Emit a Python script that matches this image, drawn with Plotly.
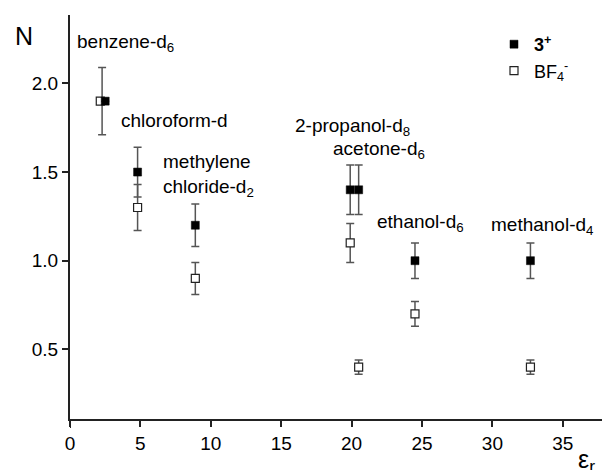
import plotly.graph_objects as go

# Data
solvents = ["benzene-d6", "chloroform-d", "methylene chloride-d2", "2-propanol-d8",
            "acetone-d6", "ethanol-d6", "methanol-d4"]
eps_cation = [2.5, 4.8, 8.9, 19.9, 20.5, 24.5, 32.7]
N_cation = [1.9, 1.5, 1.2, 1.4, 1.4, 1.0, 1.0]
err_cation = [0.0, 0.14, 0.12, 0.14, 0.14, 0.10, 0.10]

eps_anion = [2.15, 4.8, 8.9, 19.9, 20.5, 24.5, 32.7]
N_anion = [1.9, 1.3, 0.9, 1.1, 0.4, 0.7, 0.4]
err_anion = [0.0, 0.13, 0.09, 0.11, 0.04, 0.07, 0.04]

eps_benzene_err = [2.28]
N_benzene_err = [1.9]
err_benzene = [0.19]

FONT = "Liberation Sans, Arial, sans-serif"
ERRC = "#555555"
FS = 19

# page has an 8px body margin; figure is sized/offset to compensate
W, H = 602, 462
PL, PT = 70, 15            # plot area left/top in page pixels
PW, PH = 540, 404          # plot area size


def px_x(p):
    return (p - PL) / PW


def px_y(p):
    return 1 - (p - PT) / PH


fig = go.Figure()

fig.add_trace(go.Scatter(
    x=eps_benzene_err, y=N_benzene_err, mode="markers",
    marker=dict(size=1, color="rgba(0,0,0,0)"),
    error_y=dict(type="data", array=err_benzene, color=ERRC, thickness=1.5, width=4),
    showlegend=False, hoverinfo="skip"))

fig.add_trace(go.Scatter(
    x=eps_anion, y=N_anion, mode="markers", name="BF<sub>4</sub><sup>-</sup>",
    marker=dict(symbol="square", size=8, color="white", line=dict(color="#222", width=1.2)),
    error_y=dict(type="data", array=err_anion, color=ERRC, thickness=1.5, width=4)))

fig.add_trace(go.Scatter(
    x=eps_cation, y=N_cation, mode="markers", name="<b>3<sup>+</sup></b>",
    marker=dict(symbol="square", size=8, color="black", line=dict(color="black", width=0.5)),
    error_y=dict(type="data", array=err_cation, color=ERRC, thickness=1.5, width=4)))

labels = [
    ("benzene-d<sub>6</sub>", 0.36, 2.23),
    ("chloroform-d", 3.48, 1.79),
    ("methylene<br>chloride-d<sub>2</sub>", 6.46, 1.48),
    ("2-propanol-d<sub>8</sub>", 15.84, 1.755),
    ("acetone-d<sub>6</sub>", 18.54, 1.625),
    ("ethanol-d<sub>6</sub>", 21.66, 1.21),
    ("methanol-d<sub>4</sub>", 29.76, 1.195),
]
annotations = []
for t, x, y in labels:
    annotations.append(dict(text=t, x=x, y=y, xref="x", yref="y", xanchor="left",
                            yanchor="middle", showarrow=False, align="left",
                            font=dict(size=FS, family=FONT, color="black")))

annotations.append(dict(text="N", x=px_x(24), y=px_y(36), xref="paper", yref="paper",
                        showarrow=False, xanchor="center", yanchor="middle",
                        font=dict(size=25, family=FONT, color="black")))
annotations.append(dict(text="ε<sub>r</sub>", x=px_x(576), y=px_y(461), xref="paper",
                        yref="paper", showarrow=False, xanchor="left", yanchor="middle",
                        font=dict(size=25, family=FONT, color="black")))

fig.update_layout(
    width=W, height=H,
    margin=dict(l=PL - 8, r=W - (PL - 8) - PW, t=PT - 8, b=H - (PT - 8) - PH),
    paper_bgcolor="white", plot_bgcolor="white",
    font=dict(family=FONT, size=FS, color="black"),
    showlegend=True,
    legend=dict(x=px_x(494), y=px_y(26), xanchor="left", yanchor="top",
                bgcolor="rgba(0,0,0,0)", font=dict(size=18, family=FONT),
                traceorder="reversed", tracegroupgap=0, itemwidth=30),
    annotations=annotations,
    shapes=[dict(type="line", xref="x", yref="paper", x0=0, x1=0, y0=0, y1=-9 / PH,
                 line=dict(color="#222", width=2))],
)

fig.update_xaxes(range=[0, 38.35], tickvals=[0, 5, 10, 15, 20, 25, 30, 35],
                 showline=True, linecolor="#222", linewidth=2, ticks="outside",
                 ticklen=6, tickwidth=1.5, tickcolor="#222", showgrid=False,
                 zeroline=False, automargin=False, tickfont=dict(size=FS, family=FONT))
fig.update_yaxes(range=[0.107, 2.386], tickvals=[0.5, 1.0, 1.5, 2.0],
                 ticktext=["0.5", "1.0", "1.5", "2.0"],
                 showline=True, linecolor="#222", linewidth=2, ticks="outside",
                 ticklen=6, tickwidth=1.5, tickcolor="#222", showgrid=False,
                 zeroline=False, automargin=False, tickfont=dict(size=FS, family=FONT))

fig.write_html("out.html")
